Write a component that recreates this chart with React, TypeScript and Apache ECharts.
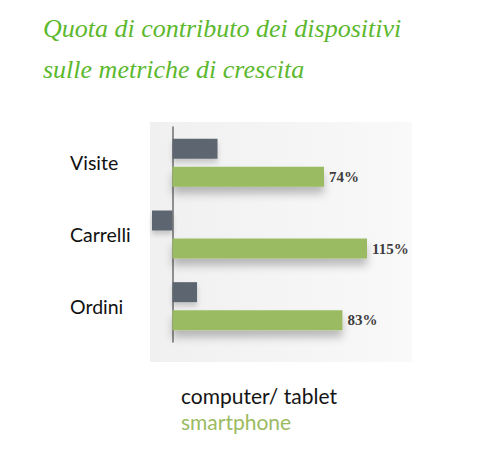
import React, { useEffect, useRef } from "react";
import * as echarts from "echarts";

const titleLines = ["Quota di contributo dei dispositivi", "sulle metriche di crescita"];
const categories = ["Visite", "Carrelli", "Ordini"];
const seriesNames = ["computer/ tablet", "smartphone"];
const computerTablet = [22, -10, 12];
const smartphone = [74, 115, 83];
const axisMin = -10;
const axisMax = 95;

export default function App() {
  const ref = useRef<HTMLDivElement>(null);
  useEffect(() => {
    if (!ref.current) return;
    const chart = echarts.init(ref.current, null, { renderer: "svg" });
    chart.setOption({
      animation: false,
      backgroundColor: "#ffffff",
      title: {
        text: titleLines.join("\n"),
        left: 38,
        top: 3,
        textStyle: {
          fontFamily: "Liberation Serif",
          fontStyle: "italic",
          fontWeight: "normal",
          fontSize: 26,
          lineHeight: 41,
          color: "#5cb82e",
        },
      },
      graphic: [
        {
          type: "rect",
          left: 150,
          top: 122,
          shape: { width: 262, height: 240 },
          z: -10,
          style: {
            fill: new echarts.graphic.LinearGradient(0, 0, 1, 0, [
              { offset: 0, color: "#f0f0f0" },
              { offset: 1, color: "#f9f9f9" },
            ]),
          },
        },
      ],
      legend: {
        orient: "vertical",
        left: 171,
        top: 380,
        icon: "none",
        itemWidth: 0,
        itemHeight: 14,
        itemGap: 5,
        selectedMode: false,
        textStyle: { fontFamily: "Lato", fontSize: 21 },
        data: [
          { name: seriesNames[0], textStyle: { color: "#151515" } },
          { name: seriesNames[1], textStyle: { color: "#9bbb62" } },
        ],
      },
      grid: {
        left: 152,
        top: 127,
        width: 215,
        height: 215,
        containLabel: false,
        outerBoundsMode: "none",
      },
      xAxis: {
        type: "value",
        min: axisMin,
        max: axisMax,
        axisLine: { show: false },
        axisTick: { show: false },
        axisLabel: { show: false },
        splitLine: { show: false },
      },
      yAxis: {
        type: "category",
        data: categories,
        inverse: true,
        axisLine: { show: true, onZero: true, lineStyle: { color: "#6e6e6e", width: 1.5 } },
        axisTick: { show: false },
        axisLabel: {
          align: "left",
          margin: 82,
          fontFamily: "Lato",
          fontSize: 19.5,
          color: "#111111",
        },
      },
      series: [
        {
          name: seriesNames[0],
          type: "bar",
          data: computerTablet,
          barWidth: 20,
          barGap: "40%",
          itemStyle: {
            color: "#5d6670",
            shadowColor: "rgba(0,0,0,0.18)",
            shadowBlur: 5,
            shadowOffsetY: 4,
          },
        },
        {
          name: seriesNames[1],
          type: "bar",
          data: smartphone,
          barWidth: 20,
          barGap: "40%",
          itemStyle: {
            color: "#9bbb62",
            shadowColor: "rgba(0,0,0,0.25)",
            shadowBlur: 8,
            shadowOffsetY: 7,
          },
          label: {
            show: true,
            position: "right",
            distance: 5,
            formatter: "{c}%",
            fontFamily: "Liberation Serif",
            fontWeight: "bold",
            fontSize: 15,
            color: "#3d3d3d",
          },
        },
      ],
    });
    return () => chart.dispose();
  }, []);
  return (
    <div
      ref={ref}
      style={{ position: "fixed", left: 0, top: 0, width: 500, height: 451 }}
    />
  );
}
